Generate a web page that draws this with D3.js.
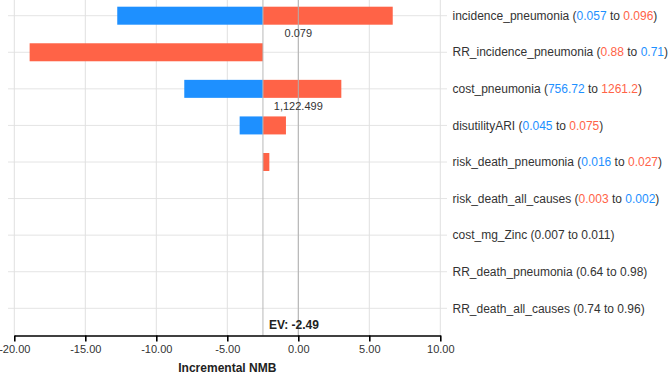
<!DOCTYPE html>
<html>
<head>
<meta charset="utf-8">
<script src="https://cdn.jsdelivr.net/npm/d3@7"></script>
<style>
  html, body { margin: 0; padding: 0; background: #fff; }
  svg { display: block; font-family: "Liberation Sans", Arial, sans-serif; }
</style>
</head>
<body>
<div id="chart"></div>
<script>
// tornado data
const params     = ["incidence_pneumonia","RR_incidence_pneumonia","cost_pneumonia","disutilityARI",
                    "risk_death_pneumonia","risk_death_all_causes","cost_mg_Zinc","RR_death_pneumonia","RR_death_all_causes"];
const lowTxt     = ["0.057","0.88","756.72","0.045","0.016","0.003","0.007","0.64","0.74"];
const highTxt    = ["0.096","0.71","1261.2","0.075","0.027","0.002","0.011","0.98","0.96"];
// which colour each bound's text gets: "b" blue, "r" red, "" plain
const lowCol     = ["b","r","b","b","b","r","","",""];
const highCol    = ["r","b","r","r","r","b","","",""];
const blueVals   = [-12.75, -2.49, -8.03, -4.13, -2.49, -2.49, -2.49, -2.49, -2.49];
const redVals    = [  6.65,-18.92,  3.03, -0.87, -2.04, -2.49, -2.49, -2.49, -2.49];
const baseLabels = ["0.079","","1,122.499","","","","","",""];
const ev = -2.49;
const xTicks = [-20,-15,-10,-5,0,5,10];

const W = 669, H = 375;
const BLUE = "#1e90ff", RED = "#ff6347";

const svg = d3.select("#chart").append("svg")
  .attr("width", W).attr("height", H);

const x = d3.scaleLinear().domain([-20, 10]).range([14.3, 440.3]);
const y = d3.scalePoint().domain(params).range([15.7, 308.3]);
const axisY = 335.5;
const barH = 18;

// grid
svg.append("g").selectAll("line")
  .data(params).join("line")
  .attr("x1", 8).attr("x2", 447)
  .attr("y1", d => y(d)).attr("y2", d => y(d))
  .attr("stroke", "#e4e4e4").attr("stroke-width", 1);

svg.append("g").selectAll("line")
  .data(xTicks).join("line")
  .attr("x1", d => x(d)).attr("x2", d => x(d))
  .attr("y1", 0).attr("y2", axisY)
  .attr("stroke", "#e0e0e0").attr("stroke-width", 1);

// bars
const rows = params.map((p, i) => ({ p, i, blue: blueVals[i], red: redVals[i] }));
const bars = svg.append("g");
rows.forEach(r => {
  [["blue", BLUE], ["red", RED]].forEach(([k, c]) => {
    const v = r[k];
    if (Math.abs(v - ev) < 1e-9) return;
    bars.append("rect")
      .attr("x", x(Math.min(v, ev)))
      .attr("width", Math.abs(x(v) - x(ev)))
      .attr("y", y(r.p) - barH / 2)
      .attr("height", barH)
      .attr("fill", c);
  });
});

// reference lines: zero and EV
svg.append("line")
  .attr("x1", x(0)).attr("x2", x(0)).attr("y1", 0).attr("y2", axisY)
  .attr("stroke", "#b0b0b0").attr("stroke-width", 1);
svg.append("line")
  .attr("x1", x(ev)).attr("x2", x(ev)).attr("y1", 0).attr("y2", axisY)
  .attr("stroke", "#b8b8b8").attr("stroke-width", 1);

// base case labels under bars
svg.append("g").selectAll("text")
  .data(rows.filter(r => baseLabels[r.i])).join("text")
  .attr("x", x(0)).attr("y", d => y(d.p) + barH / 2 + 12)
  .attr("text-anchor", "middle")
  .attr("font-size", 11).attr("fill", "#333")
  .text(d => baseLabels[d.i]);

// x axis
const fmt = v => d3.format(".2f")(v).replace("\u2212", "-");
const axX = svg.append("g")
  .attr("transform", `translate(0,${axisY})`)
  .call(d3.axisBottom(x).tickValues(xTicks).tickFormat(fmt).tickSize(6).tickSizeOuter(0));
axX.select(".domain").attr("stroke", "#000").attr("stroke-width", 1.6);
axX.selectAll(".tick line").attr("stroke", "#000").attr("stroke-width", 1.6);
axX.selectAll(".tick text")
  .attr("font-family", "Liberation Sans, Arial, sans-serif")
  .attr("font-size", 11).attr("fill", "#333").attr("y", 10);

svg.append("text")
  .attr("x", x(ev) + 6).attr("y", axisY - 6.5)
  .attr("font-size", 12).attr("font-weight", "bold").attr("fill", "#222")
  .text("EV: " + ev.toFixed(2));

svg.append("text")
  .attr("x", (x(-20) + x(10)) / 2).attr("y", 372)
  .attr("text-anchor", "middle")
  .attr("font-size", 12).attr("font-weight", "bold").attr("fill", "#222")
  .text("Incremental NMB");

// right side labels
const colMap = { b: BLUE, r: RED, "": "#333" };
const lab = svg.append("g").selectAll("text")
  .data(rows).join("text")
  .attr("x", 452.5).attr("y", d => y(d.p))
  .attr("dy", "0.35em")
  .attr("font-size", 12).attr("fill", "#333");
lab.each(function(d) {
  const t = d3.select(this);
  t.append("tspan").text(d.p + " (");
  t.append("tspan").attr("fill", colMap[lowCol[d.i]]).text(lowTxt[d.i]);
  t.append("tspan").text(" to ");
  t.append("tspan").attr("fill", colMap[highCol[d.i]]).text(highTxt[d.i]);
  t.append("tspan").text(")");
});
</script>
</body>
</html>
